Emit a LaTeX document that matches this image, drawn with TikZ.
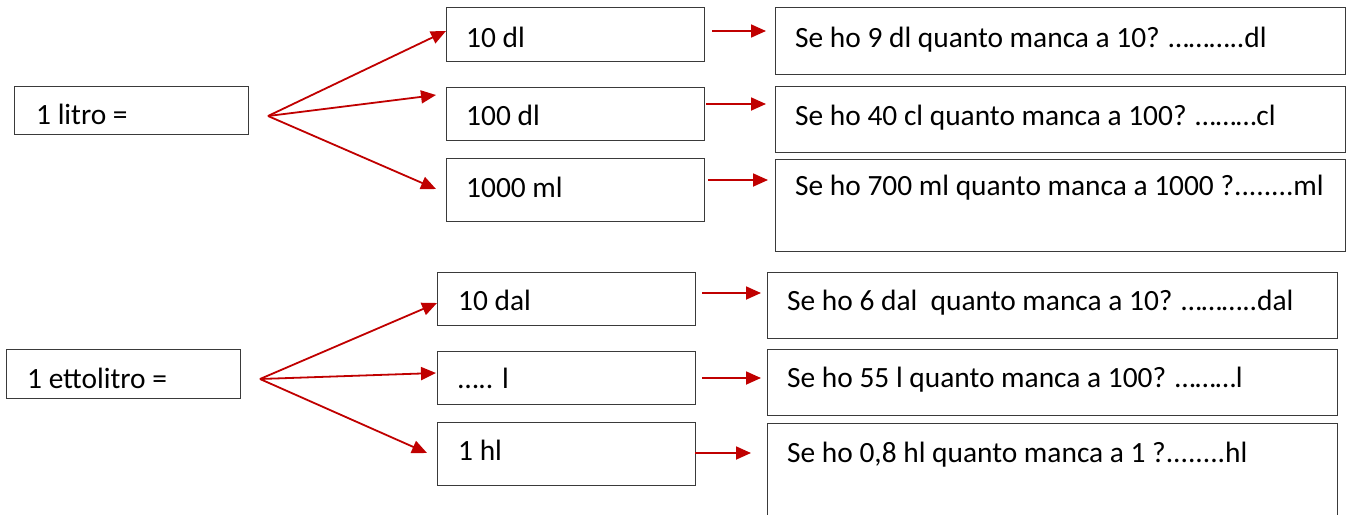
\documentclass[tikz,border=0pt]{standalone}
\usepackage{fontspec}
\setmainfont{Carlito}
\usetikzlibrary{arrows.meta}
\definecolor{arrred}{HTML}{C00000}
\definecolor{boxgray}{HTML}{3A3A3A}
\begin{document}
\begin{tikzpicture}[x=1pt,y=-1pt,
  box/.style={draw=boxgray,line width=1.4pt,inner sep=0pt,anchor=north west},
  txt/.style={anchor=base west,inner sep=0pt,font=\fontsize{29.4}{34}\selectfont},
  arr/.style={draw=arrred,line width=1.8pt,-{Triangle[length=15pt,width=13pt]}}]
\useasboundingbox (0,0) rectangle (1351,514);
\begin{scope}
\clip (0,0) rectangle (1351,514);
% left boxes
\node[box,minimum width=234pt,minimum height=48pt] (A) at (14,86) {};
\node[box,minimum width=234pt,minimum height=49pt] (D) at (6,349) {};
% middle boxes (top)
\node[box,minimum width=258pt,minimum height=54pt] (B1) at (446,7) {};
\node[box,minimum width=258pt,minimum height=53pt] (B2) at (446,87) {};
\node[box,minimum width=258pt,minimum height=63pt] (B3) at (446,158) {};
% middle boxes (bottom)
\node[box,minimum width=258pt,minimum height=53pt] (E1) at (437,272) {};
\node[box,minimum width=258pt,minimum height=53pt] (E2) at (437,351) {};
\node[box,minimum width=258pt,minimum height=63pt] (E3) at (437,422) {};
% right boxes (top)
\node[box,minimum width=570pt,minimum height=67pt] (C1) at (775,7) {};
\node[box,minimum width=570pt,minimum height=66pt] (C2) at (775,86) {};
\node[box,minimum width=570pt,minimum height=92pt] (C3) at (775,159) {};
% right boxes (bottom)
\node[box,minimum width=570pt,minimum height=66pt] (F1) at (767,272) {};
\node[box,minimum width=570pt,minimum height=66pt] (F2) at (767,349) {};
\node[box,minimum width=570pt,minimum height=110pt] (F3) at (767,423) {};
\end{scope}
% texts
\node[txt] (tA) at (36,124) {1 litro =};
\node[txt] (tD) at (27,388) {1 ettolitro =};
\node[txt] (tB1) at (466,47) {10 dl};
\node[txt] (tB2) at (466,125) {100 dl};
\node[txt] (tB3) at (466,197) {1000 ml};
\node[txt] (tE1) at (458,310) {10 dal};
\node[txt] (tE2) at (458,388) {….. l};
\node[txt] (tE3) at (458,460) {1 hl};
\node[txt] (tC1) at (795,47) {Se ho 9 dl quanto manca a 10? ………..dl};
\node[txt] (tC2) at (795,125) {Se ho 40 cl quanto manca a 100? ………cl};
\node[txt] (tC3) at (795,195) {Se ho 700 ml quanto manca a 1000 ?........ml};
\node[txt] (tF1) at (787,310) {Se ho 6 dal\ \ quanto manca a 10? ………..dal};
\node[txt] (tF2) at (787,387) {Se ho 55 l quanto manca a 100? ………l};
\node[txt] (tF3) at (787,462) {Se ho 0,8 hl quanto manca a 1 ?........hl};
% arrow coordinates
\coordinate (a0) at (268,116);
\coordinate (b1) at (446,31);
\coordinate (b2) at (436,95);
\coordinate (b3) at (436,189);
\coordinate (d0) at (260,379);
\coordinate (e1) at (437,303);
\coordinate (e2) at (436,373);
\coordinate (e3) at (427,453);
\coordinate (h1s) at (712,31);  \coordinate (h1e) at (766,31);
\coordinate (h2s) at (706,104); \coordinate (h2e) at (766,104);
\coordinate (h3s) at (708,180); \coordinate (h3e) at (768,180);
\coordinate (k1s) at (702,293); \coordinate (k1e) at (761,293);
\coordinate (k2s) at (702,378); \coordinate (k2e) at (761,378);
\coordinate (k3s) at (695,453); \coordinate (k3e) at (751,453);
% arrows
\draw[arr] (a0) -- (b1);
\draw[arr] (a0) -- (b2);
\draw[arr] (a0) -- (b3);
\draw[arr] (d0) -- (e1);
\draw[arr] (d0) -- (e2);
\draw[arr] (d0) -- (e3);
\draw[arr] (h1s) -- (h1e);
\draw[arr] (h2s) -- (h2e);
\draw[arr] (h3s) -- (h3e);
\draw[arr] (k1s) -- (k1e);
\draw[arr] (k2s) -- (k2e);
\draw[arr] (k3s) -- (k3e);
\end{tikzpicture}
\end{document}
